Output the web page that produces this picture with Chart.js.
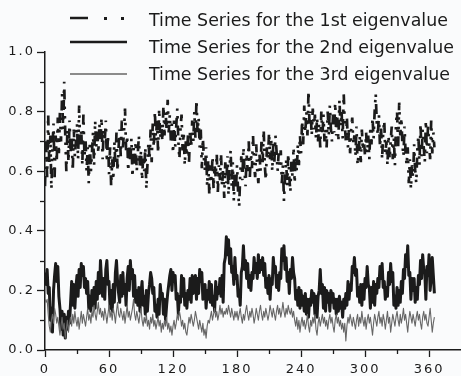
<!DOCTYPE html>
<html><head><meta charset="utf-8">
<script src="https://cdn.jsdelivr.net/npm/chart.js@4/dist/chart.umd.min.js"></script>
<style>html,body{margin:0;padding:0;background:#fafbfc;}canvas{display:block}</style>
</head><body><canvas id="c" width="461" height="376"></canvas>
<script>
const eig1 = [
0.55,0.70,0.58,0.79,0.62,0.72,0.54,0.68,0.76,0.58,
0.72,0.63,0.78,0.66,0.80,0.70,0.86,0.74,0.90,0.72,
0.60,0.74,0.63,0.77,0.66,0.72,0.60,0.74,0.65,0.70,
0.76,0.64,0.82,0.68,0.74,0.62,0.79,0.65,0.71,0.60,
0.68,0.56,0.70,0.60,0.66,0.73,0.62,0.77,0.68,0.74,
0.66,0.76,0.70,0.78,0.64,0.74,0.70,0.77,0.63,0.72,
0.59,0.68,0.55,0.64,0.57,0.70,0.62,0.73,0.60,0.68,
0.74,0.65,0.77,0.68,0.73,0.81,0.67,0.72,0.60,0.69,
0.63,0.71,0.58,0.68,0.62,0.70,0.60,0.66,0.72,0.61,
0.67,0.57,0.65,0.60,0.68,0.54,0.62,0.70,0.64,0.74,
0.63,0.76,0.68,0.80,0.70,0.78,0.66,0.81,0.71,0.76,
0.70,0.82,0.72,0.80,0.74,0.84,0.73,0.79,0.70,0.76,
0.66,0.78,0.68,0.75,0.81,0.70,0.64,0.74,0.79,0.67,
0.73,0.62,0.70,0.65,0.72,0.63,0.74,0.68,0.77,0.70,
0.80,0.71,0.84,0.73,0.78,0.68,0.74,0.61,0.71,0.64,
0.60,0.68,0.55,0.64,0.52,0.62,0.56,0.65,0.54,0.62,
0.58,0.66,0.53,0.62,0.57,0.66,0.55,0.61,0.51,0.63,
0.56,0.65,0.52,0.61,0.67,0.55,0.63,0.50,0.60,0.54,
0.62,0.53,0.48,0.59,0.65,0.57,0.68,0.60,0.55,0.66,
0.60,0.70,0.58,0.66,0.61,0.72,0.62,0.58,0.69,0.60,
0.56,0.66,0.60,0.71,0.63,0.74,0.62,0.57,0.68,0.64,
0.73,0.64,0.71,0.60,0.70,0.63,0.72,0.67,0.60,0.66,
0.61,0.67,0.56,0.62,0.50,0.58,0.64,0.55,0.66,0.58,
0.53,0.64,0.58,0.68,0.56,0.65,0.60,0.69,0.62,0.72,
0.66,0.77,0.69,0.82,0.73,0.80,0.72,0.87,0.75,0.80,
0.72,0.81,0.74,0.79,0.71,0.78,0.70,0.76,0.68,0.80,
0.72,0.79,0.70,0.74,0.68,0.80,0.72,0.82,0.74,0.70,
0.79,0.73,0.83,0.72,0.78,0.70,0.84,0.75,0.80,0.71,
0.86,0.76,0.70,0.78,0.68,0.75,0.66,0.74,0.78,0.69,
0.72,0.65,0.75,0.62,0.66,0.72,0.63,0.74,0.67,0.70,
0.65,0.73,0.66,0.72,0.64,0.75,0.69,0.78,0.71,0.80,
0.86,0.76,0.72,0.79,0.68,0.75,0.64,0.73,0.77,0.66,
0.70,0.62,0.72,0.64,0.70,0.75,0.64,0.71,0.62,0.76,
0.80,0.68,0.83,0.72,0.78,0.69,0.65,0.75,0.66,0.62,
0.68,0.56,0.64,0.54,0.62,0.58,0.69,0.60,0.56,0.67,
0.72,0.62,0.76,0.65,0.74,0.68,0.63,0.77,0.66,0.75,
0.70,0.64,0.77,0.66,0.73,0.68];
const eig2 = [
0.26,0.22,0.27,0.19,0.21,0.10,0.14,0.06,0.20,0.25,
0.29,0.23,0.28,0.18,0.14,0.07,0.13,0.05,0.12,0.04,
0.11,0.07,0.13,0.09,0.16,0.23,0.15,0.22,0.14,0.21,
0.25,0.18,0.27,0.21,0.29,0.25,0.28,0.21,0.24,0.19,
0.23,0.14,0.18,0.13,0.20,0.15,0.21,0.14,0.23,0.17,
0.26,0.19,0.30,0.23,0.18,0.24,0.17,0.27,0.30,0.22,
0.23,0.14,0.20,0.13,0.22,0.16,0.26,0.30,0.23,0.19,
0.16,0.25,0.18,0.26,0.19,0.22,0.15,0.24,0.28,0.20,
0.30,0.24,0.27,0.18,0.25,0.16,0.20,0.15,0.21,0.13,
0.19,0.23,0.15,0.18,0.12,0.20,0.13,0.19,0.22,0.26,
0.24,0.19,0.21,0.13,0.15,0.11,0.17,0.12,0.22,0.18,
0.19,0.12,0.17,0.10,0.15,0.19,0.22,0.25,0.27,0.20,
0.26,0.23,0.25,0.17,0.19,0.12,0.18,0.16,0.25,0.18,
0.24,0.15,0.19,0.14,0.20,0.17,0.24,0.16,0.25,0.19,
0.22,0.25,0.17,0.24,0.19,0.27,0.23,0.26,0.17,0.19,
0.22,0.14,0.20,0.17,0.23,0.16,0.22,0.15,0.18,0.13,
0.23,0.17,0.21,0.19,0.24,0.18,0.25,0.16,0.29,0.31,
0.38,0.32,0.37,0.29,0.34,0.26,0.28,0.22,0.31,0.24,
0.25,0.18,0.20,0.15,0.26,0.28,0.35,0.27,0.30,0.24,
0.29,0.21,0.25,0.20,0.26,0.24,0.31,0.26,0.29,0.24,
0.32,0.26,0.30,0.27,0.31,0.25,0.29,0.21,0.24,0.19,
0.25,0.17,0.24,0.22,0.31,0.26,0.28,0.21,0.25,0.20,
0.26,0.24,0.34,0.30,0.35,0.27,0.31,0.23,0.26,0.19,
0.27,0.24,0.31,0.26,0.24,0.17,0.20,0.15,0.21,0.14,
0.20,0.15,0.18,0.13,0.19,0.12,0.17,0.11,0.17,0.15,
0.20,0.16,0.19,0.12,0.18,0.11,0.18,0.20,0.27,0.19,
0.22,0.14,0.21,0.13,0.20,0.16,0.19,0.13,0.20,0.16,
0.19,0.14,0.17,0.12,0.17,0.13,0.18,0.14,0.16,0.11,
0.17,0.14,0.19,0.15,0.23,0.17,0.22,0.20,0.28,0.26,
0.31,0.25,0.27,0.18,0.21,0.16,0.22,0.15,0.22,0.17,
0.24,0.21,0.28,0.22,0.21,0.14,0.21,0.16,0.23,0.15,
0.22,0.19,0.24,0.21,0.28,0.24,0.29,0.21,0.23,0.17,
0.21,0.18,0.26,0.22,0.29,0.23,0.26,0.15,0.18,0.14,
0.21,0.15,0.20,0.16,0.23,0.19,0.27,0.24,0.32,0.28,
0.35,0.25,0.26,0.17,0.24,0.20,0.24,0.16,0.21,0.17,
0.25,0.22,0.30,0.24,0.32,0.27,0.26,0.17,0.28,0.25,
0.32,0.20,0.24,0.31,0.25,0.19];
const eig3 = [
0.17,0.16,0.17,0.12,0.08,0.06,0.10,0.12,0.09,0.14,
0.12,0.09,0.11,0.08,0.05,0.08,0.11,0.07,0.09,0.04,
0.07,0.10,0.06,0.09,0.11,0.08,0.12,0.09,0.13,0.10,
0.08,0.11,0.07,0.10,0.13,0.09,0.12,0.10,0.08,0.11,
0.14,0.10,0.12,0.09,0.13,0.11,0.15,0.12,0.10,0.13,
0.16,0.12,0.14,0.11,0.13,0.10,0.14,0.12,0.09,0.12,
0.15,0.11,0.13,0.10,0.14,0.12,0.09,0.13,0.16,0.12,
0.11,0.14,0.12,0.10,0.13,0.09,0.12,0.15,0.11,0.13,
0.10,0.12,0.14,0.17,0.12,0.10,0.13,0.11,0.09,0.12,
0.14,0.10,0.08,0.11,0.09,0.12,0.08,0.10,0.07,0.11,
0.09,0.12,0.08,0.10,0.07,0.09,0.11,0.08,0.10,0.06,
0.09,0.07,0.10,0.08,0.11,0.07,0.09,0.06,0.08,0.05,
0.08,0.10,0.07,0.09,0.12,0.10,0.13,0.11,0.08,0.10,
0.07,0.09,0.06,0.05,0.08,0.11,0.09,0.12,0.10,0.08,
0.10,0.13,0.11,0.09,0.07,0.10,0.08,0.06,0.09,0.05,
0.07,0.04,0.08,0.10,0.09,0.11,0.13,0.10,0.12,0.14,
0.11,0.13,0.10,0.12,0.15,0.12,0.14,0.11,0.13,0.12,
0.14,0.12,0.15,0.13,0.11,0.14,0.12,0.10,0.13,0.11,
0.13,0.10,0.12,0.14,0.11,0.09,0.12,0.10,0.13,0.15,
0.12,0.10,0.13,0.11,0.14,0.12,0.09,0.11,0.14,0.12,
0.10,0.13,0.15,0.12,0.10,0.13,0.11,0.14,0.12,0.10,
0.12,0.15,0.13,0.11,0.14,0.12,0.10,0.13,0.15,0.12,
0.14,0.11,0.13,0.16,0.13,0.11,0.14,0.12,0.15,0.13,
0.12,0.14,0.11,0.13,0.10,0.08,0.11,0.07,0.10,0.06,
0.09,0.11,0.08,0.10,0.07,0.09,0.12,0.08,0.06,0.10,
0.08,0.11,0.09,0.12,0.07,0.05,0.09,0.11,0.08,0.10,
0.12,0.09,0.11,0.08,0.10,0.07,0.10,0.12,0.09,0.11,
0.08,0.06,0.10,0.12,0.09,0.11,0.08,0.10,0.07,0.09,
0.06,0.09,0.03,0.08,0.11,0.09,0.12,0.10,0.08,0.11,
0.09,0.07,0.10,0.12,0.08,0.11,0.09,0.13,0.10,0.08,
0.11,0.07,0.10,0.12,0.09,0.11,0.08,0.05,0.09,0.12,
0.10,0.08,0.11,0.13,0.09,0.11,0.08,0.12,0.10,0.07,
0.10,0.13,0.09,0.11,0.06,0.09,0.12,0.10,0.08,0.11,
0.13,0.10,0.08,0.12,0.09,0.11,0.14,0.10,0.12,0.09,
0.06,0.10,0.13,0.11,0.09,0.12,0.10,0.08,0.11,0.13,
0.10,0.12,0.09,0.07,0.11,0.13,0.10,0.12,0.09,0.08,
0.11,0.14,0.10,0.06,0.09,0.11];
const xTickValues = [0,30,60,90,120,150,180,210,240,270,300,330,360];
const xTickLabels = ['0','','60','','120','','180','','240','','300','','360'];
const yTickValues = [0,0.1,0.2,0.3,0.4,0.5,0.6,0.7,0.8,0.9,1.0];
const yTickLabels = ['0.0','','0.2','','0.4','','0.6','','0.8','','1.0'];
const legendLabels = ['Time Series for the 1st eigenvalue','Time Series for the 2nd eigenvalue','Time Series for the 3rd eigenvalue'];
const days = eig1.map((_, i) => i);

const INK = '#1b1b1b';
const GREY = '#666666';

const overlay = {
  id: 'overlay',
  beforeDraw(chart) { chart.ctx.letterSpacing = '2px'; },
  afterDraw(chart) {
    const ctx = chart.ctx, a = chart.chartArea;
    const xs = chart.scales.x, ys = chart.scales.y;
    ctx.save();
    ctx.letterSpacing = '0px';
    ctx.strokeStyle = INK; ctx.lineWidth = 1.3;
    xTickValues.forEach((v, i) => {
      if (xTickLabels[i] !== '') return;
      const p = Math.round(xs.getPixelForValue(v)) + 0.5;
      ctx.beginPath(); ctx.moveTo(p, a.bottom); ctx.lineTo(p, a.bottom + 4); ctx.stroke();
    });
    yTickValues.forEach((v, i) => {
      if (yTickLabels[i] !== '') return;
      const p = Math.round(ys.getPixelForValue(v)) + 0.5;
      ctx.beginPath(); ctx.moveTo(a.left, p); ctx.lineTo(a.left - 5, p); ctx.stroke();
    });
    // legend
    const x0 = 70, x1 = 127;
    ctx.strokeStyle = INK; ctx.fillStyle = INK;
    ctx.lineWidth = 2.5;
    ctx.beginPath(); ctx.moveTo(x0, 18); ctx.lineTo(x0 + 18, 18); ctx.stroke();
    ctx.fillRect(104, 17, 3, 3); ctx.fillRect(121, 17, 3, 3);
    ctx.beginPath(); ctx.moveTo(x0, 42); ctx.lineTo(x1, 42); ctx.stroke();
    ctx.strokeStyle = GREY; ctx.lineWidth = 1.3;
    ctx.beginPath(); ctx.moveTo(x0, 74); ctx.lineTo(x1, 74); ctx.stroke();
    ctx.font = '17.4px "DejaVu Sans"';
    ctx.textBaseline = 'alphabetic'; ctx.textAlign = 'left';
    const bases = [26, 53, 80];
    legendLabels.forEach((t, i) => ctx.fillText(t, 149, bases[i]));
    ctx.restore();
  }
};

new Chart(document.getElementById('c'), {
  type: 'line',
  data: {
    labels: days,
    datasets: [
      { label: legendLabels[2], data: eig3, borderColor: GREY, borderWidth: 1.1, pointRadius: 0, tension: 0, borderJoinStyle: 'round' },
      { label: legendLabels[1], data: eig2, borderColor: INK, borderWidth: 3, pointRadius: 0, tension: 0, borderJoinStyle: 'round' },
      { label: legendLabels[0], data: eig1, borderColor: INK, borderWidth: 2.7, pointRadius: 0, tension: 0, borderDash: [10, 7, 2.5, 7, 2.5, 7], borderJoinStyle: 'bevel' }
    ]
  },
  options: {
    responsive: false, animation: false, devicePixelRatio: 1,
    layout: { padding: { top: 52, right: 1, left: 0, bottom: 0 } },
    plugins: { legend: { display: false }, tooltip: { enabled: false } },
    scales: {
      x: {
        type: 'linear', min: 0, max: 389,
        afterBuildTicks: s => { s.ticks = xTickValues.map(v => ({ value: v })); },
        afterFit: s => { s.height = 26; },
        ticks: { autoSkip: false, maxRotation: 0, padding: 5, color: INK,
          font: { family: 'DejaVu Sans', size: 13 },
          callback: (v, i) => xTickLabels[i] },
        grid: { drawOnChartArea: false, drawTicks: true, tickLength: 7, tickWidth: 1.3,
          tickColor: c => (xTickLabels[c.index] === '' ? 'rgba(0,0,0,0)' : INK) },
        border: { display: true, color: INK, width: 1.5 }
      },
      y: {
        type: 'linear', min: 0, max: 1.0,
        afterBuildTicks: s => { s.ticks = yTickValues.map(v => ({ value: v })); },
        afterFit: s => { s.width = 45; },
        ticks: { autoSkip: false, padding: 2, color: INK,
          font: { family: 'DejaVu Sans', size: 13 },
          callback: (v, i) => yTickLabels[i] },
        grid: { drawOnChartArea: false, drawTicks: true, tickLength: 8, tickWidth: 1.3,
          tickColor: c => (yTickLabels[c.index] === '' ? 'rgba(0,0,0,0)' : INK) },
        border: { display: true, color: INK, width: 1.5 }
      }
    }
  },
  plugins: [overlay]
});
</script>
</body></html>
